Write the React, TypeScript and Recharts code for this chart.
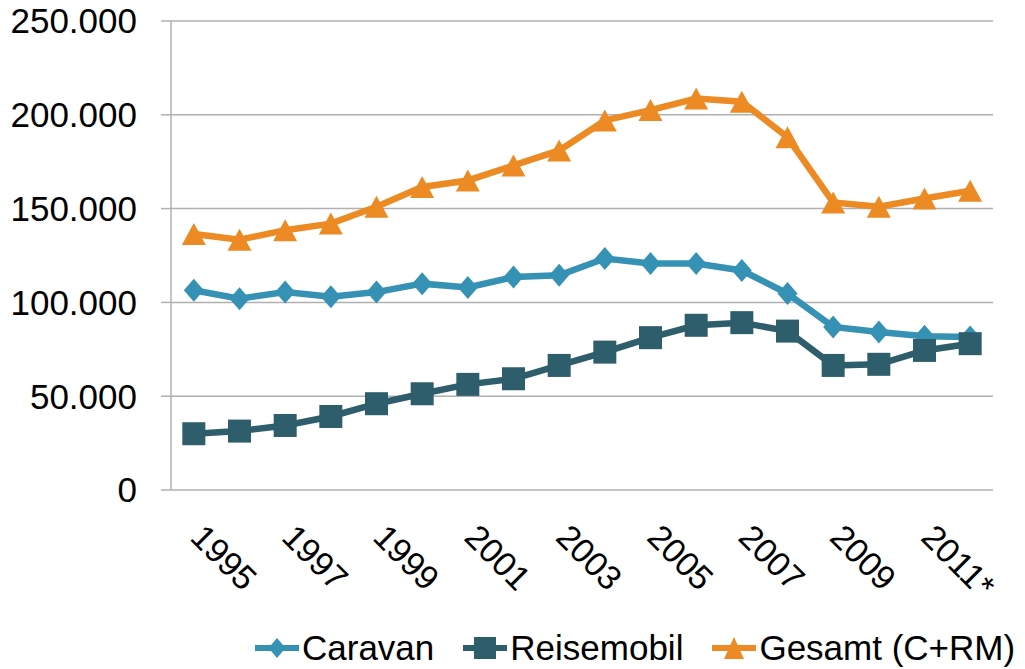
import React from "react";
import { LineChart, Line, XAxis, YAxis, CartesianGrid, Legend } from "recharts";

const years = ["1995","1996","1997","1998","1999","2000","2001","2002","2003","2004","2005","2006","2007","2008","2009","2010","2011*","2012*"];
const caravan = [106500,102000,105500,103000,105500,110000,108000,113500,114500,123400,120700,120700,117000,104700,86900,84200,81900,81500];
const reisemobil = [30000,31400,34400,39200,46000,51300,56300,59300,66400,73500,81200,87800,89200,84700,66400,67000,74400,78000];
const gesamt = [136500,133400,138500,142000,151000,161500,165000,173000,181000,197000,202500,208700,207000,188000,153300,151000,155400,159500];
const yTicks = [0,50000,100000,150000,200000,250000];
const boundaryTicks = [0,1,2,3,4,5,6,7,8,9,10,11,12,13,14,15,16,17,18];

const data = years.map((y, i) => ({ year: y, caravan: caravan[i], reisemobil: reisemobil[i], gesamt: gesamt[i] }));

const C_CARAVAN = "#3592B4";
const C_REISE = "#2E5D6B";
const C_GESAMT = "#EC8A24";
const FONT = "'Liberation Sans', Arial, sans-serif";

const fmt = (v: number) => (v === 0 ? "0" : v.toLocaleString("de-DE"));

const Diamond = ({ cx, cy, color, w = 10, h = 11.5 }: any) => (
  <polygon points={`${cx},${cy - h} ${cx + w},${cy} ${cx},${cy + h} ${cx - w},${cy}`} fill={color} />
);
const Square = ({ cx, cy, color, s = 11.5 }: any) => (
  <rect x={cx - s} y={cy - s} width={2 * s} height={2 * s} fill={color} />
);
const Triangle = ({ cx, cy, color, w = 12, h = 11 }: any) => (
  <polygon points={`${cx},${cy - h} ${cx + w},${cy + h} ${cx - w},${cy + h}`} fill={color} />
);

const XTick = (props: any) => {
  const { x, y, payload } = props;
  const ax = x - 5;
  const ay = y + 49;
  return (
    <text x={ax} y={ay} transform={`rotate(45, ${ax}, ${ay})`} textAnchor="start" fontSize={34} fontFamily={FONT} fill="#000">
      {payload.value}
    </text>
  );
};

const legendItems = [
  { name: "Caravan", color: C_CARAVAN, kind: "diamond" },
  { name: "Reisemobil", color: C_REISE, kind: "square" },
  { name: "Gesamt (C+RM)", color: C_GESAMT, kind: "triangle" },
];

const LegendContent = () => (
  <div style={{ display: "flex", alignItems: "center", fontFamily: FONT, fontSize: 35, color: "#000", lineHeight: "40px" }}>
    {legendItems.map((it, i) => (
      <div key={it.name} style={{ display: "flex", alignItems: "center", marginRight: i < 2 ? 29 : 0 }}>
        <svg width={44} height={26} style={{ marginRight: 3 }}>
          <line x1={0} y1={13} x2={44} y2={13} stroke={it.color} strokeWidth={6} />
          {it.kind === "diamond" && <Diamond cx={22} cy={13} color={it.color} w={8.5} h={10} />}
          {it.kind === "square" && <Square cx={22} cy={13} color={it.color} s={11} />}
          {it.kind === "triangle" && <Triangle cx={22} cy={13} color={it.color} w={10} h={11} />}
        </svg>
        <span>{it.name}</span>
      </div>
    ))}
  </div>
);

export default function App() {
  return (
    <div style={{ position: "absolute", left: 0, top: 0, width: 1025, height: 669, background: "#fff" }}>
      <LineChart width={1025} height={669} data={data} margin={{ top: 21, right: 32, left: 0, bottom: 14 }}>
        <CartesianGrid vertical={false} stroke="#B0B0B0" strokeWidth={1.5} />
        <XAxis
          xAxisId="b"
          type="number"
          domain={[0, 18]}
          ticks={boundaryTicks}
          tick={false}
          height={0}
          stroke="#B0B0B0"
          strokeWidth={1.5}
          tickSize={9}
        />
        <XAxis
          dataKey="year"
          scale="band"
          interval={1}
          axisLine={false}
          tickLine={false}
          tickSize={0}
          tickMargin={0}
          height={125}
          tick={<XTick />}
        />
        <YAxis
          domain={[0, 250000]}
          ticks={yTicks}
          tickFormatter={fmt}
          width={171}
          stroke="#B0B0B0"
          strokeWidth={1.5}
          tickSize={10}
          tickMargin={24}
          tick={{ fontSize: 35, fontFamily: FONT, fill: "#000" }}
        />
        <Legend
          verticalAlign="bottom"
          content={<LegendContent />}
          wrapperStyle={{ position: "absolute", left: 255, top: 628, width: 770, height: 40 }}
        />
        <Line
          dataKey="caravan"
          name="Caravan"
          stroke={C_CARAVAN}
          strokeWidth={6.5}
          isAnimationActive={false}
          dot={(p: any) => <Diamond key={p.index} cx={p.cx} cy={p.cy} color={C_CARAVAN} />}
        />
        <Line
          dataKey="reisemobil"
          name="Reisemobil"
          stroke={C_REISE}
          strokeWidth={6.5}
          isAnimationActive={false}
          dot={(p: any) => <Square key={p.index} cx={p.cx} cy={p.cy} color={C_REISE} />}
        />
        <Line
          dataKey="gesamt"
          name="Gesamt (C+RM)"
          stroke={C_GESAMT}
          strokeWidth={6.5}
          isAnimationActive={false}
          dot={(p: any) => <Triangle key={p.index} cx={p.cx} cy={p.cy} color={C_GESAMT} />}
        />
      </LineChart>
    </div>
  );
}
